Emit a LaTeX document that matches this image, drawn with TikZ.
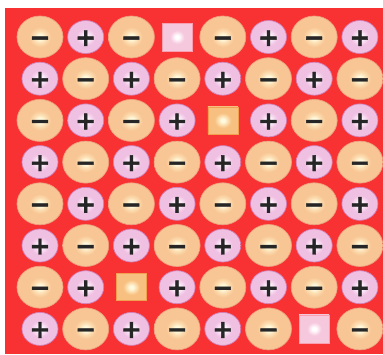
\documentclass[tikz,border=0pt]{standalone}
\usepackage{fontspec}
\newfontfamily\signfont{DejaVu Sans}[UprightFont={* Bold}, FakeBold=1.5]
\usetikzlibrary{shapes.geometric}

\definecolor{crystalred}{RGB}{248,50,50}
\definecolor{anionout}{RGB}{248,198,148}
\definecolor{anionmid}{RGB}{252,222,178}
\definecolor{anionin}{RGB}{255,250,222}
\definecolor{anionedge}{RGB}{236,160,130}
\definecolor{cationout}{RGB}{240,192,226}
\definecolor{cationmid}{RGB}{248,220,242}
\definecolor{cationin}{RGB}{255,246,255}
\definecolor{cationedge}{RGB}{210,130,186}
\definecolor{holepink}{RGB}{246,200,222}
\definecolor{holeorange}{RGB}{248,192,128}
\definecolor{holeedge}{RGB}{240,160,80}

% soft glow in the middle of every ion
\pgfdeclareradialshading{anionglow}{\pgfpoint{0bp}{0bp}}{%
  color(0bp)=(anionin); color(3bp)=(anionin); color(7bp)=(anionmid);
  color(12bp)=(anionout); color(50bp)=(anionout)}
\pgfdeclareradialshading{cationglow}{\pgfpoint{0bp}{0bp}}{%
  color(0bp)=(cationin); color(4bp)=(cationin); color(8bp)=(cationmid);
  color(13bp)=(cationout); color(50bp)=(cationout)}
\pgfdeclareradialshading{pinkhole}{\pgfpoint{0bp}{0bp}}{%
  color(0bp)=(white); color(3bp)=(white); color(12bp)=(holepink);
  color(50bp)=(holepink)}
\pgfdeclareradialshading{orangehole}{\pgfpoint{0bp}{0bp}}{%
  color(0bp)=(anionin); color(3bp)=(anionin); color(14bp)=(holeorange);
  color(50bp)=(holeorange)}

\begin{document}
\begin{tikzpicture}[
    x=1pt, y=-1pt,
    ion/.style={ellipse, inner sep=0pt, font=\signfont\fontsize{25}{25}\selectfont,
      text=black!85, text height=17.9pt, text depth=0pt},
    kind-a/.style={ion, shading=anionglow, draw=anionedge, line width=0.7pt,
      minimum width=46pt, minimum height=42pt, node contents={−}},
    kind-c/.style={ion, shading=cationglow, draw=cationedge, line width=0.7pt,
      minimum width=36pt, minimum height=33pt, node contents={+}},
    kind-p/.style={rectangle, inner sep=0pt, shading=pinkhole, draw=holepink!80!red,
      line width=0.6pt, minimum width=30pt, minimum height=28pt, node contents={}},
    kind-o/.style={rectangle, inner sep=0pt, shading=orangehole, draw=holeedge,
      line width=0.6pt, minimum width=30pt, minimum height=27pt, node contents={}}
  ]
  \useasboundingbox (0,0) rectangle (383,354);
  \fill[white] (0,0) rectangle (383,354);
  \fill[crystalred] (5,8) rectangle (383,354);

  % a = anion, c = cation, p / o = empty sites
  \foreach \r/\row in {1/{a,c,a,p,a,c,a,c}, 2/{c,a,c,a,c,a,c,a},
                       3/{a,c,a,c,o,c,a,c}, 4/{c,a,c,a,c,a,c,a},
                       5/{a,c,a,c,a,c,a,c}, 6/{c,a,c,a,c,a,c,a},
                       7/{a,c,o,c,a,c,a,c}, 8/{c,a,c,a,c,a,p,a}}
    \foreach \k [count=\c] in \row
      \node[name=ion-\r-\c, at={({40+(\c-1)*45.7}, {37+(\r-1)*41.7})}, kind-\k];
\end{tikzpicture}
\end{document}
